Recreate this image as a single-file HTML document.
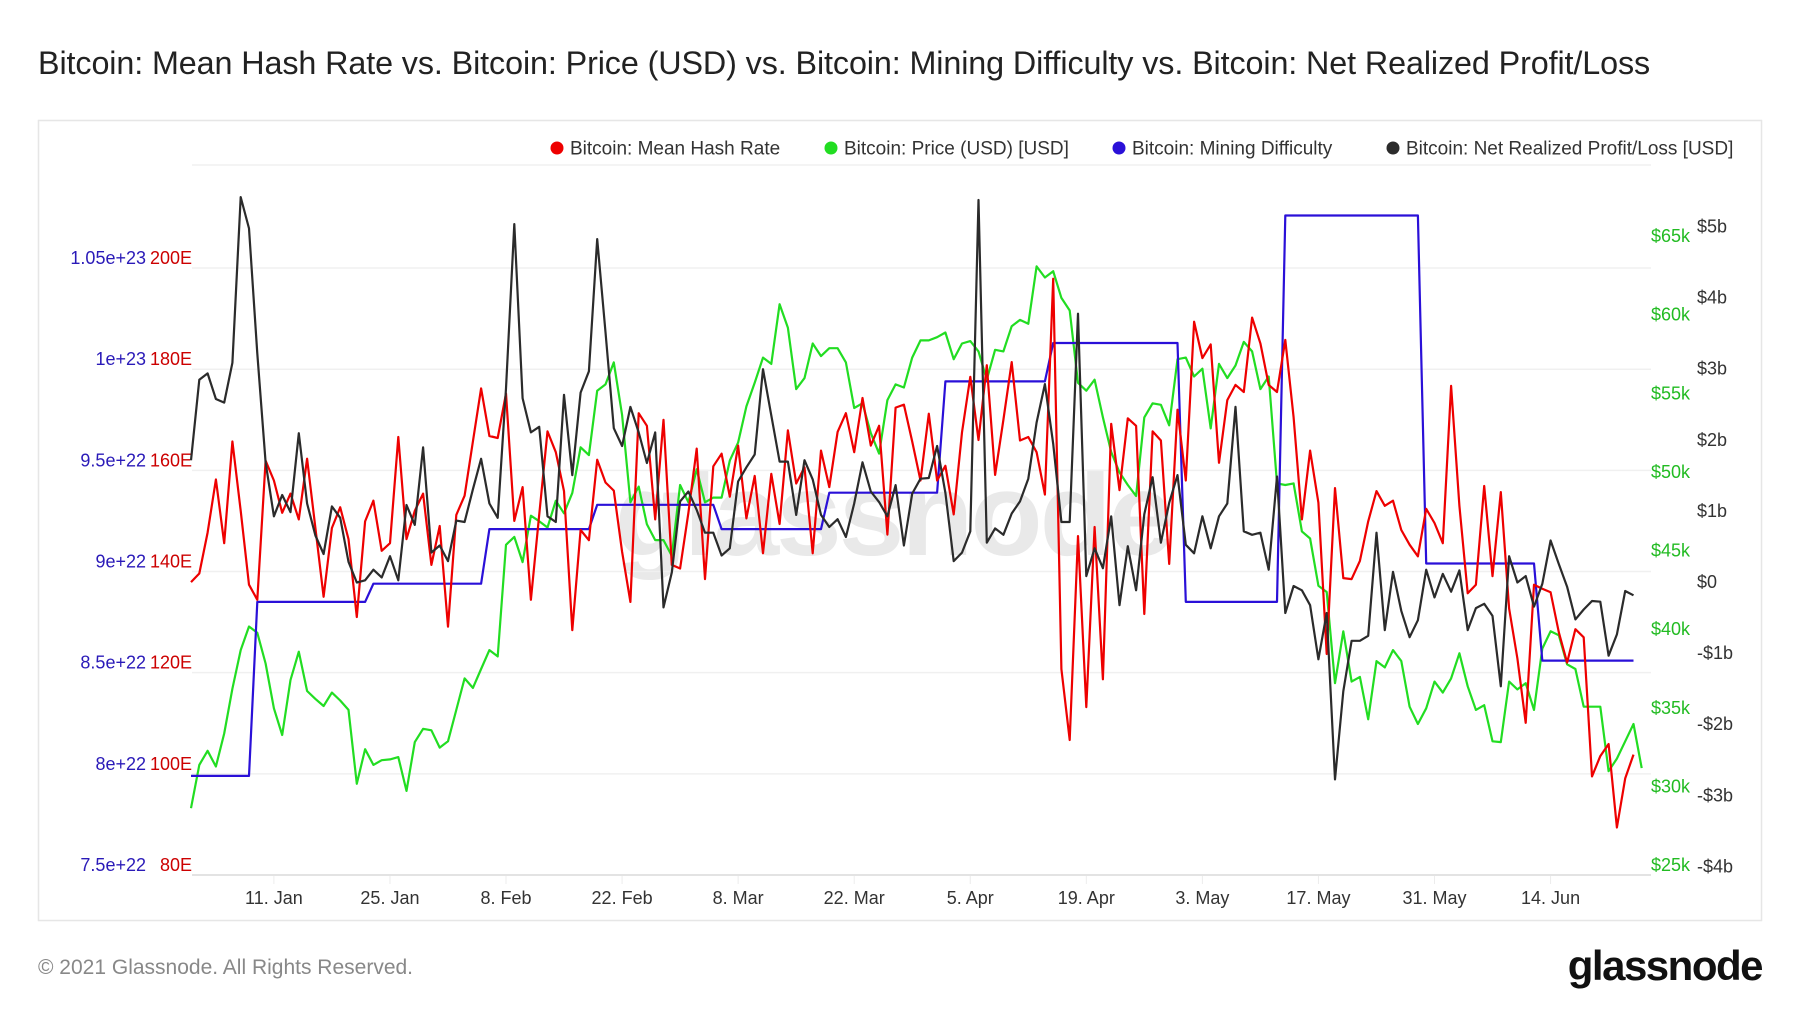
<!DOCTYPE html>
<html><head><meta charset="utf-8"><style>
html,body{margin:0;padding:0;background:#fff;}
body{width:1800px;height:1013px;position:relative;overflow:hidden;font-family:"Liberation Sans",sans-serif;}
#title{position:absolute;left:38px;top:45px;font-size:32.3px;color:#222;white-space:nowrap;letter-spacing:-0.1px;}
#footer{position:absolute;left:38px;top:956px;font-size:21px;color:#888;}
#logo{position:absolute;right:38px;top:942px;font-size:42px;font-weight:bold;color:#111;letter-spacing:-1.5px;}
svg{position:absolute;left:0;top:0;}
</style></head><body>
<div id="title">Bitcoin: Mean Hash Rate vs. Bitcoin: Price (USD) vs. Bitcoin: Mining Difficulty vs. Bitcoin: Net Realized Profit/Loss</div>
<svg id="chart" width="1800" height="1013"></svg>
<div id="footer">© 2021 Glassnode. All Rights Reserved.</div>
<div id="logo">glassnode</div>
<script>
const hashRate=[137.9,139.6,147.7,158.2,145.6,165.7,152.0,137.4,134.4,161.9,158.0,151.6,155.4,150.3,162.3,148.6,135.0,148.6,152.7,146.4,131.0,149.9,154.0,144.1,145.6,166.6,146.4,152.0,155.4,141.3,149.0,129.1,151.2,155.0,165.7,176.2,166.8,166.4,175.2,150.0,156.7,134.4,151.2,167.7,163.6,155.9,128.4,148.2,146.2,162.1,157.6,156.0,143.9,134.0,171.3,168.8,150.3,170.0,141.3,140.6,151.6,164.3,138.5,160.8,163.3,154.8,164.9,150.5,158.9,143.6,159.3,149.4,167.9,157.4,160.6,143.6,163.9,156.7,167.6,171.3,163.6,174.3,164.9,168.8,147.3,172.4,173.0,165.7,158.0,171.2,158.0,160.9,151.3,167.5,178.5,166.0,180.8,159.1,170.0,181.4,165.9,166.6,163.6,155.2,197.9,120.7,106.7,147.0,113.2,148.8,118.7,169.2,156.1,170.3,168.8,131.6,167.7,165.9,141.5,172.0,158.0,189.4,182.2,184.9,161.5,173.9,176.9,175.5,190.2,185.1,176.9,175.5,185.8,170.5,150.3,163.9,153.6,123.7,156.5,138.7,138.5,142.1,149.9,155.9,153.0,154.0,148.2,145.3,143.0,152.4,149.6,145.6,176.7,153.0,135.7,137.4,156.9,139.1,155.7,132.7,122.8,110.1,137.4,136.6,135.9,128.0,122.0,128.6,127.0,99.5,103.5,105.9,89.4,99.1,103.8];
const priceK=[29.25,32.0,32.9,31.9,34.0,36.85,39.3,40.8,40.4,38.45,35.6,33.9,37.4,39.2,36.7,36.2,35.75,36.6,36.1,35.5,30.8,33.0,32.0,32.3,32.35,32.5,30.35,33.45,34.3,34.2,33.1,33.5,35.5,37.5,36.9,38.1,39.3,38.9,46.0,46.5,44.9,47.85,47.5,47.1,48.8,48.0,49.3,52.2,51.7,55.8,56.2,57.6,54.25,48.7,49.7,47.3,46.3,46.3,45.3,49.8,48.7,50.8,48.7,49.0,49.0,51.35,52.5,54.8,56.3,57.9,57.5,61.3,59.8,55.9,56.6,58.8,58.0,58.5,58.5,57.6,54.7,55.0,53.1,51.8,55.2,56.2,56.0,57.9,59.0,59.0,59.2,59.5,57.8,58.8,58.95,58.3,56.5,58.4,58.3,59.9,60.3,60.05,63.7,63.0,63.4,61.7,60.9,56.3,55.8,56.5,54.1,51.9,50.6,49.8,49.1,54.1,55.0,54.9,53.6,57.8,57.9,56.7,57.2,53.4,57.5,56.6,57.4,58.9,58.3,55.9,56.7,49.9,49.8,49.9,46.85,46.4,43.4,43.0,37.2,40.5,37.3,37.6,34.9,38.6,38.2,39.3,38.6,35.7,34.6,35.6,37.3,36.6,37.5,39.1,37.0,35.5,35.8,33.5,33.45,37.3,36.8,37.2,35.5,39.4,40.5,40.25,38.4,38.1,35.7,35.7,35.7,31.6,32.4,33.5,34.6,31.8];
const nrplB=[1.84,2.97,3.06,2.70,2.65,3.21,5.54,5.10,3.34,1.81,1.05,1.35,1.11,2.22,1.23,0.78,0.52,1.19,1.03,0.41,0.12,0.15,0.30,0.19,0.49,0.15,1.21,0.93,2.02,0.54,0.64,0.42,0.99,0.97,1.43,1.86,1.23,1.03,2.85,5.16,2.71,2.23,2.31,1.05,0.97,2.76,1.63,2.79,3.09,4.95,3.64,2.29,2.04,2.59,2.23,1.80,2.23,-0.23,0.26,1.26,1.40,1.14,0.82,0.82,0.50,0.60,1.54,1.74,1.92,3.12,2.47,1.82,1.82,1.07,1.84,1.57,1.07,0.90,1.01,0.76,1.23,1.81,1.40,1.25,1.05,1.49,0.64,1.37,1.58,1.59,2.04,1.38,0.42,0.54,0.84,5.50,0.68,0.88,0.79,1.09,1.26,1.58,2.37,2.91,2.07,0.97,0.97,3.90,0.21,0.60,0.32,1.05,-0.20,0.63,0.01,1.08,1.60,0.68,1.24,1.63,0.65,0.53,1.05,0.60,1.05,1.23,2.59,0.84,0.79,0.82,0.30,1.61,-0.31,0.07,0.01,-0.20,-0.96,-0.31,-2.65,-1.41,-0.70,-0.70,-0.63,0.82,-0.55,0.27,-0.28,-0.65,-0.41,0.30,-0.09,0.24,-0.01,0.29,-0.55,-0.24,-0.18,-0.35,-1.34,0.49,0.12,0.21,-0.22,0.10,0.71,0.38,0.06,-0.40,-0.26,-0.14,-0.15,-0.91,-0.61,0.00,-0.06];
const diffChangeDay=[0,8,22,36,49,64,77,91,104,120,132,149,163];
const diffValueE22=[7.99,8.85,8.94,9.21,9.33,9.21,9.39,9.94,10.13,8.85,10.76,9.04,8.56];
const diffLastDay=174;
const xTickLabels=["11. Jan","25. Jan","8. Feb","22. Feb","8. Mar","22. Mar","5. Apr","19. Apr","3. May","17. May","31. May","14. Jun"];
const xTickDays=[10,24,38,52,66,80,94,108,122,136,150,164];
const hashTicks=[80,100,120,140,160,180,200];
const hashTickLabels=["80E","100E","120E","140E","160E","180E","200E"];
const diffTickLabels=["7.5e+22","8e+22","8.5e+22","9e+22","9.5e+22","1e+23","1.05e+23"];
const priceTicks=[25,30,35,40,45,50,55,60,65];
const priceTickLabels=["$25k","$30k","$35k","$40k","$45k","$50k","$55k","$60k","$65k"];
const nrplTicks=[-4,-3,-2,-1,0,1,2,3,4,5];
const nrplTickLabels=["-$4b","-$3b","-$2b","-$1b","$0","$1b","$2b","$3b","$4b","$5b"];

const X=d=>191+d*8.29;
const YH=v=>875-(v-80)*5.058;
const YP=k=>875-(k-25)*15.725;
const YN=b=>591-b*71.1;
const YD=e=>875-(e-7.5)*202.3;
const NS='http://www.w3.org/2000/svg';
const svg=document.getElementById('chart');
function mk(tag,attrs,parent){const e=document.createElementNS(NS,tag);for(const k in attrs)e.setAttribute(k,attrs[k]);(parent||svg).appendChild(e);return e;}
function txt(s,attrs,parent){const e=mk('text',attrs,parent);e.textContent=s;return e;}

let el=mk('rect',{x:38.5,y:120.5,width:1723,height:800,fill:'none',stroke:'#e6e6e6','stroke-width':1.5});



el=txt('glassnode',{x:893,y:555,'font-size':118,'font-weight':'bold','text-anchor':'middle',fill:'#e9e9e9','font-family':'Liberation Sans, sans-serif','letter-spacing':'-3'});



el=mk('line',{x1:192,x2:1651,y1:165,y2:165,stroke:'#f0f0f0','stroke-width':1.5});


hashTicks.forEach((v,i)=>{
  const y=YH(v);
  const g=mk('line',{x1:192,x2:1651,y1:y,y2:y,stroke:i==0?'#e3e3e3':'#f0f0f0','stroke-width':i==0?2:1.5});
  
  
  const t1=txt(hashTickLabels[i],{x:192,y:y-4,'font-size':18,fill:'#cc0000','text-anchor':'end'});
  
  
  const t2=txt(diffTickLabels[i],{x:146,y:y-4,'font-size':18,fill:'#2a1ab8','text-anchor':'end'});
  
  
});
priceTicks.forEach((k,i)=>{
  const t=txt(priceTickLabels[i],{x:1651,y:YP(k)-4,'font-size':18,fill:'#22bb22'});
  
  
});
nrplTicks.forEach((b,i)=>{
  const t=txt(nrplTickLabels[i],{x:1697,y:YN(b)-3,'font-size':18,fill:'#333'});
  
  
});
xTickDays.forEach((d,i)=>{
  const x=X(d);
  const tk=mk('line',{x1:x,x2:x,y1:876,y2:884,stroke:'#ececec','stroke-width':1});
  
  
  const t=txt(xTickLabels[i],{x:x,y:904,'font-size':18,fill:'#333','text-anchor':'middle'});
  
  
});

function line(vals,Y,color,name){
  const pts=vals.map((v,i)=>X(i).toFixed(1)+','+Y(v).toFixed(1)).join(' ');
  const p=mk('polyline',{points:pts,fill:'none',stroke:color,'stroke-width':2.2,'stroke-linejoin':'round'});
  
  
}
const diffDaily=[];
for(let d=0;d<=diffLastDay;d++){let v=diffValueE22[0];diffChangeDay.forEach((c,i)=>{if(d>=c)v=diffValueE22[i];});diffDaily.push(v);}
line(priceK,YP,'#22dd22','price-line');
line(diffDaily,YD,'#2a10d8','difficulty-line');
line(hashRate,YH,'#ee0000','hashrate-line');
line(nrplB,YN,'#2b2b2b','nrpl-line');

const legend=[['#ee0000','Bitcoin: Mean Hash Rate',557,'legend-hashrate'],['#22dd22','Bitcoin: Price (USD) [USD]',831,'legend-price'],['#2a10d8','Bitcoin: Mining Difficulty',1119,'legend-difficulty'],['#2b2b2b','Bitcoin: Net Realized Profit/Loss [USD]',1393,'legend-nrpl']];
legend.forEach(l=>{
  const g=mk('g',{});
  
  
  mk('circle',{cx:l[2],cy:148,r:6.5,fill:l[0]},g);
  txt(l[1],{x:l[2]+13,y:154.5,'font-size':19,fill:'#333'},g);
});
</script>
</body></html>
